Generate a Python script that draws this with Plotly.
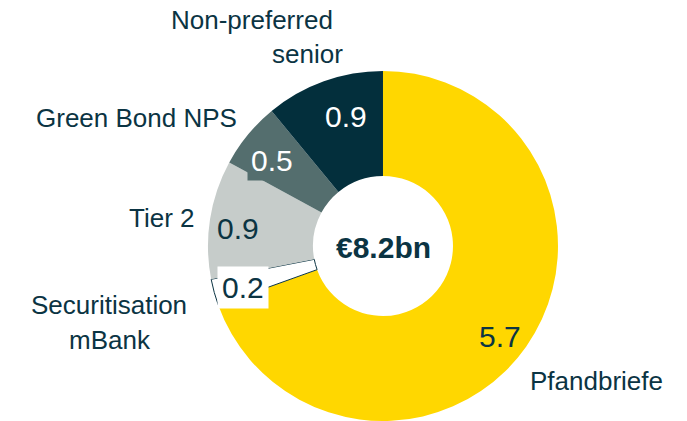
import plotly.graph_objects as go

labels = ["Pfandbriefe", "Securitisation mBank", "Tier 2", "Green Bond NPS", "Non-preferred senior"]
values = [5.7, 0.2, 0.9, 0.5, 0.9]
total_label = "€8.2bn"

colors = ["#FFD700", "#FFFFFF", "#C6CCCA", "#546E6E", "#032F3C"]
line_colors = ["#FFD700", "#0B3443", "#C6CCCA", "#546E6E", "#032F3C"]
line_widths = [0, 1, 0, 0, 0]
navy = "#0B3443"
font = "Liberation Sans, Arial, sans-serif"

# page has an 8px body margin; figure is sized/offset to compensate
OFF = 8
W, H = 687 - OFF, 421 - OFF

fig = go.Figure(go.Pie(
    labels=labels, values=values, hole=0.4, sort=False,
    direction="clockwise", rotation=0, textinfo="none",
    hoverinfo="label+value",
    marker=dict(colors=colors, line=dict(color=line_colors, width=line_widths)),
    domain=dict(x=[0.293, 0.8115], y=[0, 0.8475]),
    showlegend=False,
))

def px(x, y):
    return (x - OFF) / W, 1 - (y - OFF) / H

cat_pos = {
    "Pfandbriefe": [("Pfandbriefe", 596, 381)],
    "Securitisation mBank": [("Securitisation", 109, 305), ("mBank", 110, 340)],
    "Tier 2": [("Tier 2", 162, 218)],
    "Green Bond NPS": [("Green Bond NPS", 136, 118)],
    "Non-preferred senior": [("Non-preferred", 252, 20), ("senior", 307, 54)],
}
annotations = []
for lab in labels:
    for txt, x, y in cat_pos[lab]:
        ax, ay = px(x, y)
        annotations.append(dict(x=ax, y=ay, xref="paper", yref="paper", text=txt,
                                showarrow=False, xanchor="center", yanchor="middle",
                                font=dict(family=font, size=26, color=navy)))

val_style = {
    "Pfandbriefe": (500, 336, navy, None),
    "Securitisation mBank": (243, 287, navy, "#FFFFFF"),
    "Tier 2": (238, 228, navy, None),
    "Green Bond NPS": (272, 160, "#FFFFFF", "#546E6E"),
    "Non-preferred senior": (346, 117, "#FFFFFF", None),
}
for lab, v in zip(labels, values):
    x, y, c, bg = val_style[lab]
    ax, ay = px(x, y)
    a = dict(x=ax, y=ay, xref="paper", yref="paper", text=f"{v:.1f}",
             showarrow=False, xanchor="center", yanchor="middle",
             font=dict(family=font, size=30, color=c))
    if bg:
        a["bgcolor"] = bg
        a["borderpad"] = 3 if bg == "#546E6E" else 4
    annotations.append(a)

cx, cy = px(383, 247)
annotations.append(dict(x=cx, y=cy, xref="paper", yref="paper", text=f"<b>{total_label}</b>",
                        showarrow=False, xanchor="center", yanchor="middle",
                        font=dict(family=font, size=30, color=navy)))

fig.update_layout(width=W, height=H, margin=dict(l=0, r=0, t=0, b=0),
                  paper_bgcolor="white", plot_bgcolor="white",
                  annotations=annotations)
fig.write_html("out.html")
